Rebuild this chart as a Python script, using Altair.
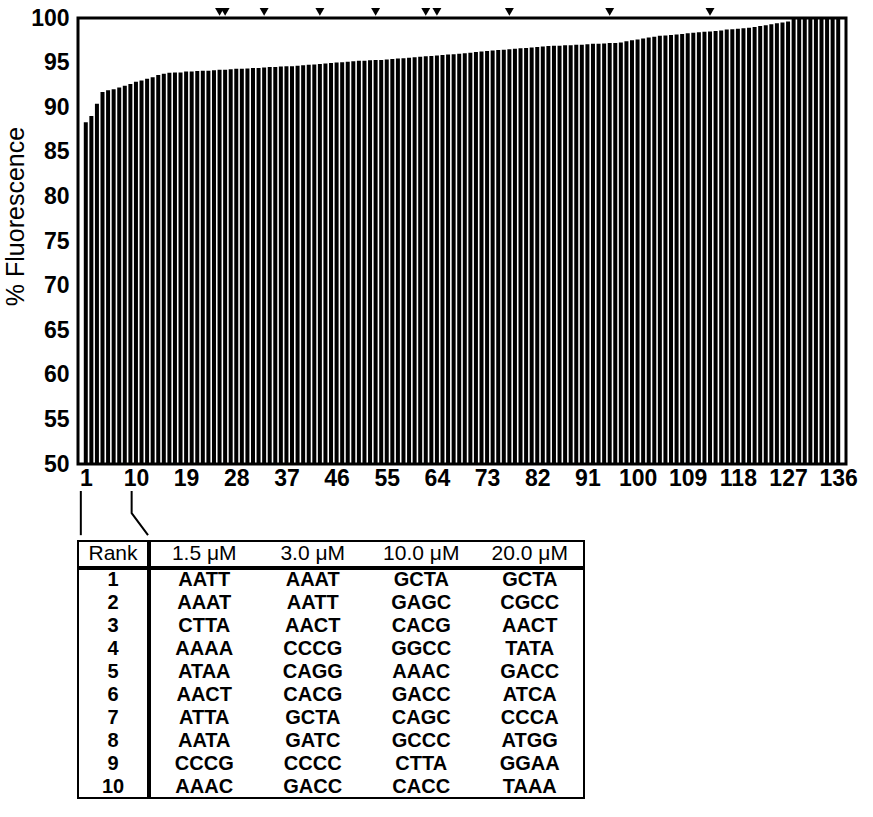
import altair as alt
import pandas as pd

# ---------------- data ----------------
ranks = list(range(1, 137))
fluorescence = [
    88.3, 89.0, 90.4, 91.7, 91.9, 92.0, 92.2, 92.4, 92.6, 92.85,
    93.0, 93.2, 93.35, 93.6, 93.75, 93.85, 93.9, 93.9, 94.0, 94.0,
    94.05, 94.1, 94.1, 94.15, 94.2, 94.2, 94.25, 94.3, 94.3, 94.35,
    94.4, 94.4, 94.45, 94.5, 94.5, 94.55, 94.6, 94.6, 94.65, 94.7,
    94.75, 94.8, 94.85, 94.9, 94.95, 95.0, 95.05, 95.1, 95.15, 95.2,
    95.2, 95.25, 95.3, 95.3, 95.35, 95.4, 95.45, 95.5, 95.55, 95.6,
    95.65, 95.7, 95.75, 95.8, 95.85, 95.9, 95.95, 96.0, 96.05, 96.1,
    96.2, 96.25, 96.3, 96.35, 96.4, 96.45, 96.5, 96.55, 96.6, 96.65,
    96.7, 96.75, 96.8, 96.85, 96.9, 96.9, 96.95, 96.95, 97.0, 97.0,
    97.05, 97.1, 97.1, 97.15, 97.2, 97.2, 97.25, 97.4, 97.5, 97.6,
    97.7, 97.8, 97.9, 98.0, 98.05, 98.1, 98.15, 98.2, 98.3, 98.35,
    98.4, 98.45, 98.5, 98.55, 98.6, 98.7, 98.75, 98.8, 98.85, 98.9,
    99.0, 99.1, 99.2, 99.3, 99.4, 99.5, 99.6, 100.0, 100.0, 100.0,
    100.0, 100.0, 100.0, 100.0, 100.0, 100.0,
]
marker_ranks = [25, 26, 33, 43, 53, 62, 64, 77, 95, 113]
x_tick_values = [1, 10, 19, 28, 37, 46, 55, 64, 73, 82, 91, 100, 109, 118, 127, 136]
y_tick_values = [50, 55, 60, 65, 70, 75, 80, 85, 90, 95, 100]

table_ranks = list(range(1, 11))
conc_labels = ["1.5 μM", "3.0 μM", "10.0 μM", "20.0 μM"]
seq_1_5 = ["AATT", "AAAT", "CTTA", "AAAA", "ATAA", "AACT", "ATTA", "AATA", "CCCG", "AAAC"]
seq_3_0 = ["AAAT", "AATT", "AACT", "CCCG", "CAGG", "CACG", "GCTA", "GATC", "CCCC", "GACC"]
seq_10_0 = ["GCTA", "GAGC", "CACG", "GGCC", "AAAC", "GACC", "CAGC", "GCCC", "CTTA", "CACC"]
seq_20_0 = ["GCTA", "CGCC", "AACT", "TATA", "GACC", "ATCA", "CCCA", "ATGG", "GGAA", "TAAA"]

FONT = "Liberation Sans"
RANK_DOMAIN = [0.5, 136.5]
W = 768

# ---------------- top bar chart ----------------
bar_df = pd.DataFrame({"rank": ranks, "fluorescence": fluorescence})
mark_df = pd.DataFrame({"rank": marker_ranks})

x_enc = alt.X(
    "rank:Q",
    scale=alt.Scale(domain=RANK_DOMAIN, nice=False, zero=False),
    axis=alt.Axis(
        values=x_tick_values, format="d", title=None, ticks=False, domain=False,
        grid=False, labelFontSize=23, labelFont=FONT, labelColor="black",
        labelFontWeight="bold", labelPadding=3, labelFlush=False,
        labelOverlap=False,
    ),
)
y_enc = alt.Y(
    "fluorescence:Q",
    scale=alt.Scale(domain=[50, 100], nice=False, zero=False),
    axis=alt.Axis(
        values=y_tick_values, format="d", title="% Fluorescence", ticks=False,
        domain=False, grid=False, labelFontSize=23, labelFont=FONT,
        labelFontWeight="bold", labelColor="black", labelPadding=9,
        titleFontSize=25, titleFont=FONT, titleFontWeight="normal",
        titleColor="black", titlePadding=2, titleY=198,
    ),
)

bars = alt.Chart(bar_df).mark_bar(color="black", size=4.0).encode(
    x=x_enc, y=y_enc, y2=alt.datum(50)
)
markers = alt.Chart(mark_df).mark_point(
    shape="triangle-down", filled=True, color="black", size=80, opacity=1
).encode(x=alt.X("rank:Q"), y=alt.datum(100.68))

top = alt.layer(bars, markers).properties(
    width=W, height=446,
    view=alt.ViewBackground(stroke="black", strokeWidth=3),
)

# ---------------- connector from ranks 1..10 to the table ----------------
first_r, last_r = table_ranks[0], table_ranks[-1]
conn_df = pd.DataFrame({
    "grp": ["first", "first", "last", "last", "last"],
    "step": [0, 1, 0, 1, 2],
    "rank": [first_r, first_r, last_r, last_r, 12.9],
    "level": [1.0, 0.06, 1.0, 0.53, 0.06],
})
connector = alt.Chart(conn_df).mark_line(color="black", strokeWidth=2).encode(
    x=alt.X("rank:Q", scale=alt.Scale(domain=RANK_DOMAIN, nice=False, zero=False), axis=None),
    y=alt.Y("level:Q", scale=alt.Scale(domain=[0, 1], nice=False), axis=None),
    detail="grp:N",
    order="step:Q",
).properties(width=W, height=47, view=alt.ViewBackground(stroke=None))

# ---------------- table ----------------
cell_view = alt.ViewBackground(stroke="black", strokeWidth=2)
RANK_W, VAL_W, HEAD_H, BODY_H = 70, 434, 26, 229

head_rank = alt.Chart(pd.DataFrame({"h": ["Rank"]})).mark_text(
    fontSize=21, font=FONT, color="black"
).encode(
    x=alt.X("h:N", axis=None), text="h:N"
).properties(width=RANK_W, height=HEAD_H, view=cell_view)

head_vals = alt.Chart(pd.DataFrame({"conc": conc_labels})).mark_text(
    fontSize=21, font=FONT, color="black"
).encode(
    x=alt.X("conc:N", sort=conc_labels, axis=None,
            scale=alt.Scale(paddingInner=0, paddingOuter=0)),
    text="conc:N",
).properties(width=VAL_W, height=HEAD_H, view=cell_view)

rank_df = pd.DataFrame({"rank": table_ranks})
body_rank = alt.Chart(rank_df).mark_text(
    fontSize=20, font=FONT, fontWeight="bold", color="black"
).encode(
    y=alt.Y("rank:O", axis=None, scale=alt.Scale(paddingInner=0, paddingOuter=0)),
    text="rank:O",
).properties(width=RANK_W, height=BODY_H, view=cell_view)

rows = []
for conc, seqs in zip(conc_labels, [seq_1_5, seq_3_0, seq_10_0, seq_20_0]):
    for r, s in zip(table_ranks, seqs):
        rows.append({"conc": conc, "rank": r, "seq": s})
seq_df = pd.DataFrame(rows)
body_vals = alt.Chart(seq_df).mark_text(
    fontSize=20, font=FONT, fontWeight="bold", color="black"
).encode(
    x=alt.X("conc:N", sort=conc_labels, axis=None,
            scale=alt.Scale(paddingInner=0, paddingOuter=0)),
    y=alt.Y("rank:O", axis=None, scale=alt.Scale(paddingInner=0, paddingOuter=0)),
    text="seq:N",
).properties(width=VAL_W, height=BODY_H, view=cell_view)

table = alt.vconcat(
    alt.hconcat(head_rank, head_vals, spacing=0),
    alt.hconcat(body_rank, body_vals, spacing=0),
    spacing=0,
)

upper = alt.vconcat(top, connector, spacing=27, bounds="flush")

chart = alt.vconcat(upper, table, spacing=0).properties(
    padding={"left": 2, "top": 5, "right": 5, "bottom": 5},
    background="white",
).configure(font=FONT).configure_view(stroke=None)

chart.save("out.html", embed_options={"renderer": "svg", "actions": False})
